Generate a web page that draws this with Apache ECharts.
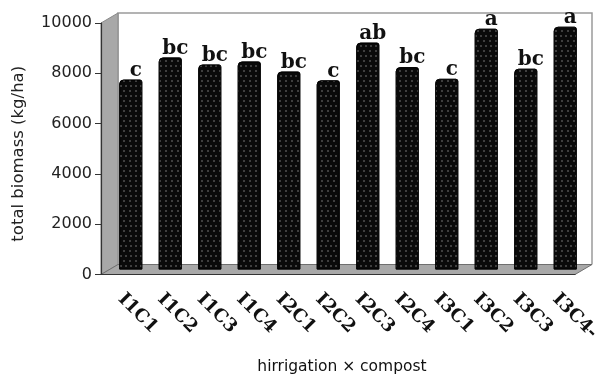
<!DOCTYPE html>
<html>
<head>
<meta charset="utf-8">
<script src="https://cdn.jsdelivr.net/npm/echarts@6/dist/echarts.min.js"></script>
<style>
  html, body { margin: 0; padding: 0; background: #fff; }
  #main { width: 595px; height: 376px; }
</style>
</head>
<body>
<div id="main"></div>
<script>
// data
var treatments = ['I1C1', 'I1C2', 'I1C3', 'I1C4', 'I2C1', 'I2C2', 'I2C3', 'I2C4', 'I3C1', 'I3C2', 'I3C3', 'I3C4-'];
var biomass = [7550, 8430, 8150, 8270, 7870, 7520, 9020, 8045, 7580, 9570, 7980, 9650];
var letters = ['c', 'bc', 'bc', 'bc', 'bc', 'c', 'ab', 'bc', 'c', 'a', 'bc', 'a'];
var yTicks = [0, 2000, 4000, 6000, 8000, 10000];

// layout of the fake 3d box
var L = 101, R = 575, T = 23, B = 274.5;
var DX = 17, DY = -10;      // back wall offset
var BX = 10, BY = -5;       // bars sit half way in

var chart = echarts.init(document.getElementById('main'));

var option = {
  animation: false,
  backgroundColor: '#fff',
  grid: [
    { left: L, top: T, width: R - L, height: B - T, outerBoundsMode: 'none', containLabel: false },
    { left: L + BX, top: T + BY, width: R - L, height: B - T, outerBoundsMode: 'none', containLabel: false }
  ],
  xAxis: [
    {
      gridIndex: 0,
      type: 'category',
      data: treatments,
      name: 'hirrigation × compost',
      nameLocation: 'middle',
      nameGap: 84,
      nameTextStyle: { fontFamily: 'DejaVu Sans', fontSize: 15.5, color: '#111', padding: [0, 0, 0, 8] },
      axisLine: { lineStyle: { color: '#333', width: 1.2 } },
      axisTick: { alignWithLabel: true, length: 6, lineStyle: { color: '#333' } },
      axisLabel: {
        interval: 0,
        rotate: -45,
        margin: 22,
        fontFamily: 'DejaVu Serif',
        fontWeight: 'bold',
        fontSize: 18,
        color: '#111'
      }
    },
    {
      gridIndex: 1,
      type: 'category',
      data: treatments,
      show: false
    }
  ],
  yAxis: [
    {
      gridIndex: 0,
      type: 'value',
      min: yTicks[0],
      max: yTicks[yTicks.length - 1],
      interval: 2000,
      name: 'total biomass (kg/ha)',
      nameLocation: 'middle',
      nameGap: 74,
      nameTextStyle: { fontFamily: 'DejaVu Sans', fontSize: 16.5, color: '#222', padding: [0, 10, 0, 0] },
      axisLine: { show: true, lineStyle: { color: '#333', width: 1.2 } },
      axisTick: { show: true, length: 6, lineStyle: { color: '#333' } },
      axisLabel: {
        fontFamily: 'DejaVu Sans', fontSize: 16, color: '#222', margin: 9,
        formatter: function (v) { return String(v); }
      },
      splitLine: { show: false }
    },
    {
      gridIndex: 1,
      type: 'value',
      min: yTicks[0],
      max: yTicks[yTicks.length - 1],
      interval: 2000,
      show: false,
      splitLine: { show: false }
    }
  ],
  graphic: [
    {
      type: 'polyline',
      z: -10,
      shape: { points: [[L + DX, B + DY], [L + DX, T + DY], [R + DX, T + DY], [R + DX, B + DY]] },
      style: { stroke: '#9a9a9a', lineWidth: 1.5, fill: null }
    },
    {
      type: 'polygon',
      z: -9,
      shape: { points: [[L, T], [L + DX, T + DY], [L + DX, B + DY], [L, B]] },
      style: { fill: '#a8a8a8', stroke: '#8a8a8a', lineWidth: 1 }
    },
    {
      type: 'polygon',
      z: -9,
      shape: { points: [[L, B], [L + DX, B + DY], [R + DX, B + DY], [R, B]] },
      style: { fill: '#a8a8a8', stroke: '#6f6f6f', lineWidth: 1 }
    }
  ],
  series: [
    {
      type: 'bar',
      xAxisIndex: 1,
      yAxisIndex: 1,
      data: biomass,
      barWidth: 23,
      itemStyle: {
        color: '#0a0a0a',
        borderColor: '#000',
        borderWidth: 0.8,
        borderRadius: [4, 2, 0, 0],
        decal: {
          symbol: 'circle',
          symbolSize: 1,
          color: 'rgba(95,95,95,0.85)',
          dashArrayX: [[2, 3], [0, 2.5, 2, 0.5]],
          dashArrayY: [2, 3]
        }
      },
      label: {
        show: true,
        position: 'top',
        distance: -1,
        offset: [5, 0],
        fontFamily: 'DejaVu Serif',
        fontWeight: 'bold',
        fontSize: 20,
        color: '#111',
        formatter: function (p) { return letters[p.dataIndex]; }
      }
    }
  ]
};

chart.setOption(option);
</script>
</body>
</html>
